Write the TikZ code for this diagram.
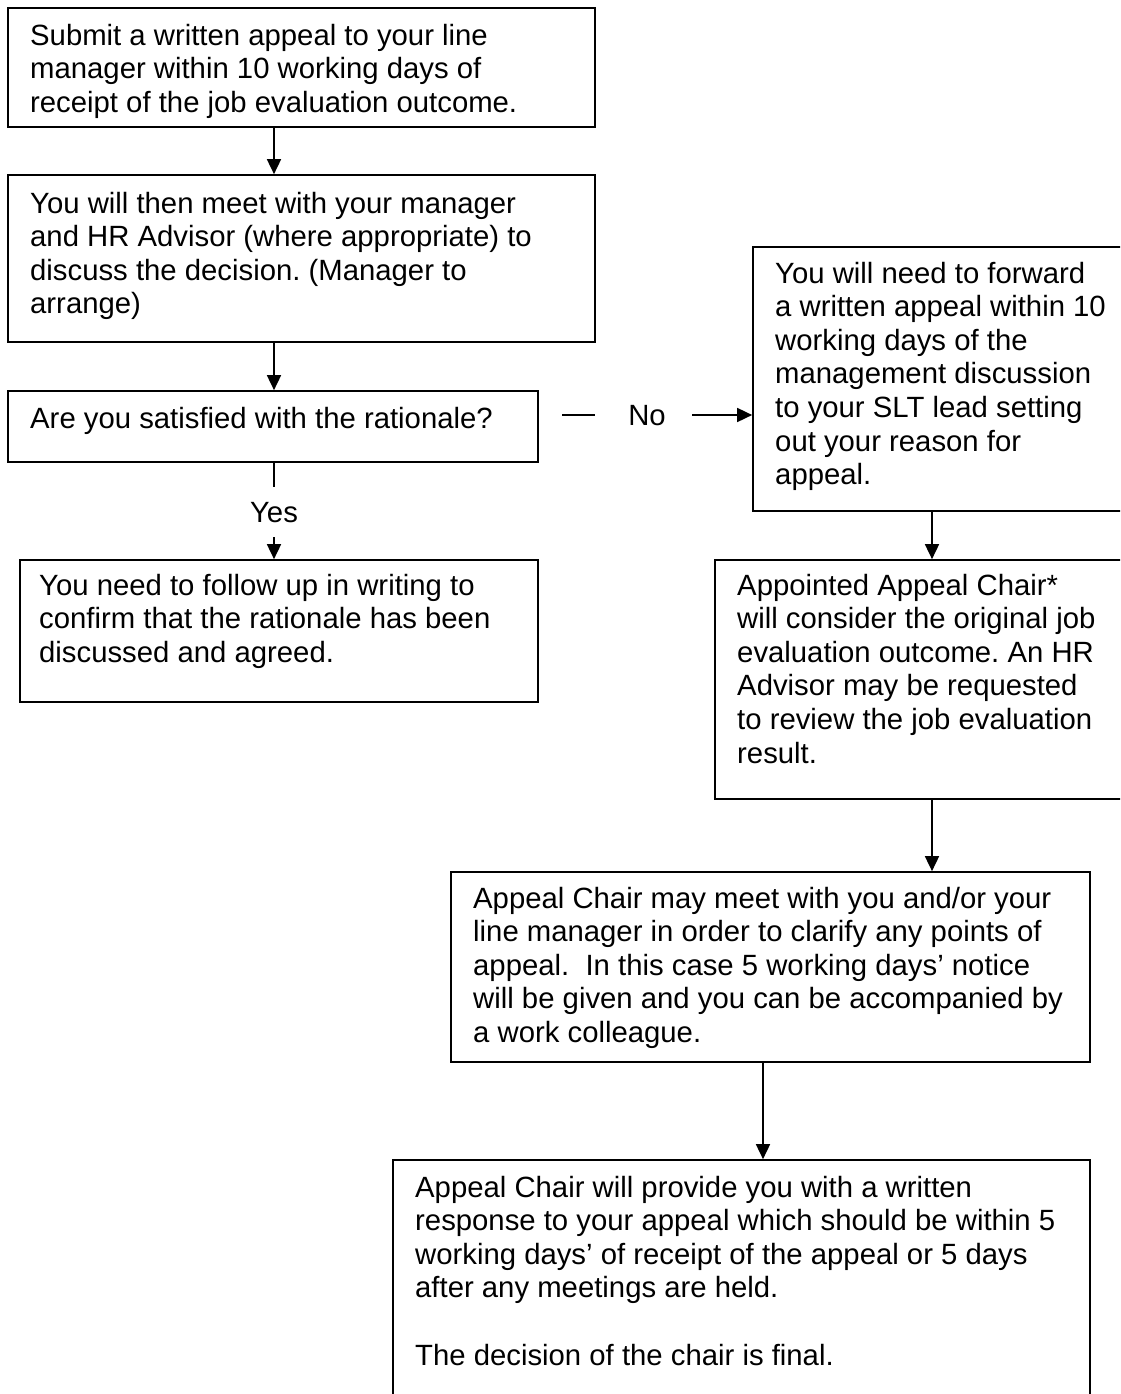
\documentclass[tikz,border=0pt]{standalone}
\usepackage{fontspec}
\setmainfont{Liberation Sans}
\usetikzlibrary{arrows.meta}
\begin{document}
\frenchspacing
\begin{tikzpicture}[x=1pt,y=-1pt,
  boxx/.style={draw=black, line width=1.7pt, rectangle, inner sep=0pt},
  txt/.style={anchor=north west, inner sep=0pt, align=left, font=\fontsize{29.3}{33.6}\selectfont\frenchspacing},
  lbl/.style={inner sep=0pt, font=\fontsize{29.3}{33.6}\selectfont},
  arr/.style={line width=1.7pt, -{Triangle[length=15pt,width=14pt]}},
  ln/.style={line width=1.7pt}]
\clip (0,0) rectangle (1120,1394);
\fill[white] (0,0) rectangle (1120,1394);
% columns for connectors
\coordinate (col) at (274,0);
\coordinate (col2) at (932,0);
\coordinate (col3) at (763,0);
% boxes
\node[boxx, minimum width=587pt, minimum height=119pt] (b1) at (301.5,67.5) {};
\node[boxx, minimum width=587pt, minimum height=167pt] (b2) at (301.5,258.5) {};
\node[boxx, minimum width=530pt, minimum height=71pt] (b3) at (273,426.5) {};
\node[boxx, minimum width=518pt, minimum height=142pt] (b4) at (279,631) {};
\node[boxx, minimum width=387pt, minimum height=264pt] (fwd) at (946.5,379) {};
\node[boxx, minimum width=425pt, minimum height=239pt] (appt) at (927.5,679.5) {};
\node[boxx, minimum width=639pt, minimum height=190pt] (meet) at (770.5,967) {};
\node[boxx, minimum width=697pt, minimum height=260pt] (final) at (741.5,1290) {};
% texts
\node[txt] (t1) at (30,21.4) {\strut Submit a written appeal to your line\\manager within 10 working days of\\receipt of the job evaluation outcome.};
\node[txt] (t2) at (30,189.4) {\strut You will then meet with your manager\\and HR Advisor (where appropriate) to\\discuss the decision. (Manager to\\arrange)};
\node[txt] (t3) at (30,404.4) {\strut Are you satisfied with the rationale?};
\node[txt] (t4) at (39,571.4) {\strut You need to follow up in writing to\\confirm that the rationale has been\\discussed and agreed.};
\node[txt] (t5) at (775,259.4) {\strut You will need to forward\\a written appeal within 10\\working days of the\\management discussion\\to your SLT lead setting\\out your reason for\\appeal.};
\node[txt] (t6) at (737,571.4) {\strut Appointed Appeal Chair*\\will consider the original job\\evaluation outcome. An HR\\Advisor may be requested\\to review the job evaluation\\result.};
\node[txt] (t7) at (473,884.4) {\strut Appeal Chair may meet with you and/or your\\line manager in order to clarify any points of\\appeal.\ \ In this case 5 working days’ notice\\will be given and you can be accompanied by\\a work colleague.};
\node[txt] (t8) at (415,1173.4) {\strut Appeal Chair will provide you with a written\\response to your appeal which should be within 5\\working days’ of receipt of the appeal or 5 days\\after any meetings are held.\\\mbox{}\\The decision of the chair is final.};
% connectors
\draw[arr] (b1.south -| col) -- (b2.north -| col);
\draw[arr] (b2.south -| col) -- (b3.north -| col);
\coordinate (y1) at (274,487);
\coordinate (y2) at (274,537);
\draw[ln] (b3.south -| col) -- (y1);
\node[lbl] (yes) at (274,513) {Yes};
\draw[arr] (y2) -- (b4.north -| col);
\coordinate (n1) at (562,415);
\coordinate (n2) at (595,415);
\coordinate (n3) at (692,415);
\draw[ln] (n1) -- (n2);
\node[lbl] (no) at (647,416) {No};
\draw[arr] (n3) -- (n3 -| fwd.west);
\draw[arr] (fwd.south -| col2) -- (appt.north -| col2);
\draw[arr] (appt.south -| col2) -- (meet.north -| col2);
\draw[arr] (meet.south -| col3) -- (final.north -| col3);
\end{tikzpicture}
\end{document}
